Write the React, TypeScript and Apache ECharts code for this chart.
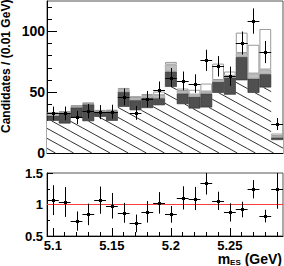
import React, { useEffect, useRef } from "react";
import * as echarts from "echarts";

// ---- data ----
const binCenters = [5.10, 5.11, 5.12, 5.13, 5.14, 5.15, 5.16, 5.17, 5.18, 5.19, 5.20, 5.21, 5.22, 5.23, 5.24, 5.25, 5.26, 5.27, 5.28, 5.29];
const binLabels = binCenters.map((v) => v.toFixed(2));
const halfBin = 0.005;
const xMin = 5.095;
const xMax = 5.295;
const xMajorTicks = [5.1, 5.15, 5.2, 5.25];

// stacked histogram tops (events / 0.01 GeV)
const hatchTop = [26.5, 24.3, 29.2, 26.2, 29.8, 26.5, 38.0, 35.2, 37.0, 39.3, 54.4, 40.2, 36.6, 37.5, 49.5, 48.0, 59.8, 49.5, 53.9, 10.7];
const darkTop = [30.6, 33.0, 37.5, 40.0, 33.9, 34.2, 50.3, 43.4, 45.5, 45.0, 67.0, 49.0, 46.2, 48.9, 58.5, 62.0, 79.0, 61.2, 64.8, 12.8];
const lightTop = [32.5, 33.7, 38.5, 40.8, 34.6, 34.8, 52.2, 45.3, 47.0, 47.5, 72.7, 51.0, 48.0, 50.5, 60.0, 63.5, 82.2, 65.3, 68.6, 13.9];
const whiteTop = [33.4, 34.2, 39.2, 41.3, 35.4, 35.4, 53.5, 46.7, 48.5, 50.5, 74.9, 53.0, 52.0, 57.1, 73.5, 67.0, 99.0, 89.0, 102.0, 16.0];

// data points
const dataY = [32.5, 32.5, 29.2, 34.4, 33.6, 33.9, 46.2, 33.0, 44.3, 51.6, 62.0, 59.3, 57.1, 76.2, 71.3, 63.1, 90.4, 108.5, 83.0, 23.8];
const dataErr = [5.7, 5.7, 5.4, 5.9, 5.8, 5.8, 6.8, 5.7, 6.7, 7.2, 7.9, 7.7, 7.6, 8.7, 8.4, 7.9, 9.5, 10.4, 9.1, 4.9];

// ratio panel
const ratioY = [1.069, 1.04, 0.737, 0.843, 1.069, 0.98, 0.868, 0.70, 0.884, 1.026, 0.843, 1.105, 1.095, 1.348, 1.058, 0.874, 0.921, 1.242, 0.816, 1.253];
const ratioErr = [0.237, 0.237, 0.153, 0.171, 0.216, 0.203, 0.158, 0.14, 0.171, 0.171, 0.132, 0.184, 0.184, 0.19, 0.145, 0.145, 0.124, 0.145, 0.10, 0.32];

const topYLabels = [0, 50, 100];
const topYMinor = [10, 20, 30, 40, 60, 70, 80, 90, 110, 120];

const FONT = "Liberation Sans";
const HATCH_SLOPE = 0.55;
const HATCH_STEP = 10;
const HATCH_PHASE = 2.5;

const diff = (a: number[], b: number[]) => a.map((v, i) => +(v - b[i]).toFixed(2));

function errRender(params: any, api: any) {
  const x = api.value(0);
  const y = api.value(1);
  const e = api.value(2);
  const c = api.coord([x, y]);
  const l = api.coord([x - halfBin, y]);
  const r = api.coord([x + halfBin, y]);
  const t = api.coord([x, y + e]);
  const b = api.coord([x, y - e]);
  const cx = Math.round(c[0]) + 0.5;
  const cy = Math.round(c[1]) + 0.5;
  const s = { stroke: "#000", lineWidth: 1 };
  return {
    type: "group",
    children: [
      { type: "line", shape: { x1: l[0], y1: cy, x2: r[0], y2: cy }, style: s },
      { type: "line", shape: { x1: cx, y1: t[1], x2: cx, y2: b[1] }, style: s },
      { type: "rect", shape: { x: cx - 1.5, y: cy - 1.5, width: 3, height: 3 }, style: { fill: "#000" } },
    ],
  };
}

function hatchRender(params: any, api: any) {
  const i = api.value(0);
  const v = api.value(1);
  const top = api.coord([i, v]);
  const bot = api.coord([i, 0]);
  const w = api.size([1, 0])[0];
  const x0 = top[0] - w / 2;
  const x1 = top[0] + w / 2;
  const y0 = top[1];
  const y1 = bot[1];
  const m = HATCH_SLOPE;
  const children: any[] = [];
  const cMin = y0 - m * x1;
  const cMax = y1 - m * x0;
  for (let k = Math.ceil((cMin - HATCH_PHASE) / HATCH_STEP); k * HATCH_STEP + HATCH_PHASE <= cMax; k++) {
    const c = k * HATCH_STEP + HATCH_PHASE;
    const xa = Math.max(x0, (y0 - c) / m);
    const xb = Math.min(x1, (y1 - c) / m);
    if (xb > xa) {
      children.push({
        type: "line",
        shape: { x1: xa, y1: m * xa + c, x2: xb, y2: m * xb + c },
        style: { stroke: "#1a1a1a", lineWidth: 0.9 },
      });
    }
  }
  return { type: "group", children };
}

export default function App() {
  const ref = useRef<HTMLDivElement>(null);
  useEffect(() => {
    if (!ref.current) return;
    const chart = echarts.init(ref.current, null, { renderer: "svg" });
    const catAxis = (gridIndex: number, len: number) => ({
      type: "category",
      gridIndex,
      data: binLabels,
      position: "bottom",
      boundaryGap: true,
      axisLine: { show: false },
      axisLabel: { show: false, interval: 0 },
      axisTick: { show: true, alignWithLabel: true, inside: true, interval: 0, length: len, lineStyle: { color: "#000" } },
      splitLine: { show: false },
    });
    const barBase = { type: "bar", xAxisIndex: 0, yAxisIndex: 0, stack: "h", barCategoryGap: "0%" };
    const option: any = {
      animation: false,
      color: ["#000"],
      grid: [
        { left: 47, right: 1, top: 1, height: 152, show: true, borderColor: "#555", borderWidth: 1, backgroundColor: "transparent" },
        { left: 47, right: 1, top: 173, height: 63, show: true, borderColor: "#555", borderWidth: 1, backgroundColor: "transparent" },
      ],
      xAxis: [
        catAxis(0, 3),
        {
          type: "value", gridIndex: 0, min: xMin, max: xMax, position: "bottom",
          axisLine: { show: true, onZero: false, lineStyle: { color: "#000" } },
          axisLabel: { show: false },
          axisTick: { show: true, inside: true, length: 5, customValues: xMajorTicks, lineStyle: { color: "#000" } },
          splitLine: { show: false },
        },
        catAxis(1, 4),
        {
          type: "value", gridIndex: 1, min: xMin, max: xMax, position: "bottom",
          axisLine: { show: true, onZero: false, lineStyle: { color: "#000" } },
          axisLabel: {
            show: true, customValues: xMajorTicks, margin: 3, lineHeight: 12,
            fontFamily: FONT, fontWeight: "bold", fontSize: 13, color: "#000",
            formatter: (v: number) => String(+v.toFixed(2)),
          },
          axisTick: { show: true, inside: true, length: 8, customValues: xMajorTicks, lineStyle: { color: "#000" } },
          splitLine: { show: false },
          name: "{m|m}{s|ES}{m| (GeV)}",
          nameLocation: "end",
          nameGap: -1,
          nameTextStyle: {
            align: "right", verticalAlign: "top", padding: [16, 0, 0, 0],
            rich: {
              m: { fontFamily: FONT, fontWeight: "bold", fontSize: 14, color: "#000", lineHeight: 14 },
              s: { fontFamily: FONT, fontWeight: "bold", fontSize: 8, color: "#000", lineHeight: 5, verticalAlign: "bottom" },
            },
          },
        },
      ],
      yAxis: [
        {
          type: "value", gridIndex: 0, min: 0, max: 125,
          axisLine: { show: true, lineStyle: { color: "#000" } },
          axisLabel: { show: true, customValues: topYLabels, margin: 2, fontFamily: FONT, fontWeight: "bold", fontSize: 14, color: "#000" },
          axisTick: { show: true, inside: true, length: 10, customValues: topYLabels, lineStyle: { color: "#000" } },
          splitLine: { show: false },
        },
        {
          type: "value", gridIndex: 0, min: 0, max: 125, position: "left",
          axisLine: { show: false },
          axisLabel: { show: false },
          axisTick: { show: true, inside: true, length: 5, customValues: topYMinor, lineStyle: { color: "#000" } },
          splitLine: { show: false },
        },
        {
          type: "value", gridIndex: 1, min: 0.5, max: 1.5, interval: 0.5,
          axisLine: { show: true, lineStyle: { color: "#000" } },
          axisLabel: { show: true, margin: 4, fontFamily: FONT, fontWeight: "bold", fontSize: 13, color: "#000" },
          axisTick: { show: true, inside: true, length: 6, lineStyle: { color: "#000" } },
          minorTick: { show: true, splitNumber: 2, length: 3, lineStyle: { color: "#000" } },
          splitLine: { show: false },
          minorSplitLine: { show: false },
        },
      ],
      series: [
        { ...barBase, name: "hatch", data: hatchTop, itemStyle: { color: "#fff" } },
        { ...barBase, name: "dark", data: diff(darkTop, hatchTop), itemStyle: { color: "#505050", borderColor: "#2a2a2a", borderWidth: 0.6 } },
        { ...barBase, name: "light", data: diff(lightTop, darkTop), itemStyle: { color: "#bebebe", borderColor: "#8a8a8a", borderWidth: 0.5 } },
        { ...barBase, name: "white", data: diff(whiteTop, lightTop), itemStyle: { color: "#fff", borderColor: "#9a9a9a", borderWidth: 1 } },
        {
          type: "custom", name: "hatchLines", xAxisIndex: 0, yAxisIndex: 0, z: 3,
          data: hatchTop.map((v, i) => [i, v]),
          encode: { x: 0, y: 1 },
          renderItem: hatchRender,
        },
        {
          type: "custom", name: "data", xAxisIndex: 1, yAxisIndex: 0, z: 5,
          data: dataY.map((v, i) => [binCenters[i], v, dataErr[i]]),
          encode: { x: 0, y: 1 },
          renderItem: errRender,
        },
        {
          type: "line", name: "unity", xAxisIndex: 3, yAxisIndex: 2, symbol: "none",
          data: [[xMin, 1], [xMax, 1]],
          lineStyle: { color: "#ff3c3c", width: 1 },
        },
        {
          type: "custom", name: "ratio", xAxisIndex: 3, yAxisIndex: 2, clip: true, z: 5,
          data: ratioY.map((v, i) => [binCenters[i], v, ratioErr[i]]),
          encode: { x: 0, y: 1 },
          renderItem: errRender,
        },
      ],
      graphic: [
        {
          type: "text", x: 6, y: 133, rotation: Math.PI / 2,
          style: { text: "Candidates / (0.01 GeV)", font: `bold 12px "${FONT}"`, fill: "#000", align: "left", verticalAlign: "middle" },
        },
      ],
    };
    chart.setOption(option);
    return () => chart.dispose();
  }, []);
  return <div ref={ref} style={{ position: "fixed", left: 0, top: 0, width: 284, height: 266, background: "#fff" }} />;
}
